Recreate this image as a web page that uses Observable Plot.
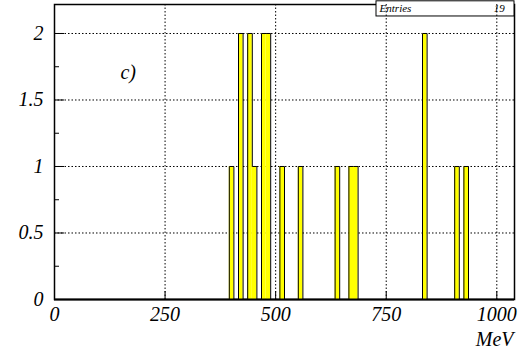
<!DOCTYPE html>
<html>
<head>
<meta charset="utf-8">
<script src="https://cdn.jsdelivr.net/npm/d3@7"></script>
<script src="https://cdn.jsdelivr.net/npm/@observablehq/plot@0.6"></script>
<style>
  html, body { margin: 0; padding: 0; background: white; }
  svg text { font-family: "Liberation Serif", "Times New Roman", serif; }
</style>
</head>
<body>
<div id="chart"></div>
<script>
// Histogram: 100 bins of 10.4 MeV over 0–1040 MeV; only non-empty bins listed
const binWidth = 10.4;
const nBins = 100;
const binStart = [395.2, 416, 436.8, 447.2, 468, 478.4, 509.6, 551.2, 634.4, 665.6, 676, 832, 904.8, 925.6];
const counts   = [1, 2, 2, 1, 2, 2, 1, 1, 1, 1, 1, 2, 1, 1];
const entries = 19;

const xTicks = [0, 250, 500, 750, 1000];
const xTickLabels = ["0", "250", "500", "750", "1000"];
const yTicks = [0, 0.5, 1, 1.5, 2];
const yTickLabels = ["0", "0.5", "1", "1.5", "2"];
const yMinor = [0.25, 0.75, 1.25, 1.75];

const bins = binStart.map((x, i) => ({x1: x, x2: x + binWidth, n: counts[i]}));

// full bin contents for the step outline of the histogram
const full = new Array(nBins).fill(0);
binStart.forEach((x, i) => { full[Math.round(x / binWidth)] = counts[i]; });
const outline = full.map((n, i) => ({x: i * binWidth, n}));
outline.push({x: nBins * binWidth, n: 0});
outline.unshift({x: 0, n: 0});

const W = 521, H = 356;
const mL = 54, mR = 7, mT = 4, mB = 57;
const frameW = W - mL - mR, frameH = H - mT - mB;
const font = "Liberation Serif";

// statistics box in the upper right corner
const statsBox = [{x1: 728, x2: 1040, y1: 2.128, y2: 2.242}];

const txt = {fontFamily: font, fontStyle: "italic", fill: "black"};

const chart = Plot.plot({
  width: W,
  height: H,
  marginLeft: mL,
  marginRight: mR,
  marginTop: mT,
  marginBottom: mB,
  x: {domain: [0, 1040], axis: null},
  y: {domain: [0, 2.218], axis: null},
  style: {fontFamily: font, background: "white", overflow: "visible"},
  marks: [
    Plot.frame({stroke: "black", strokeWidth: 1.5}),
    Plot.rect(statsBox, {x1: "x1", x2: "x2", y1: "y1", y2: "y2", fill: "white", stroke: "black", strokeWidth: 1}),
    Plot.gridX(xTicks.slice(1), {stroke: "black", strokeOpacity: 1, strokeWidth: 1, strokeDasharray: "1.5,2"}),
    Plot.gridY(yTicks.slice(1), {stroke: "black", strokeOpacity: 1, strokeWidth: 1, strokeDasharray: "1.5,2"}),
    Plot.rect(bins, {x1: "x1", x2: "x2", y1: 0, y2: "n", fill: "#ffff00"}),
    Plot.line(outline, {x: "x", y: "n", curve: "step-after", stroke: "black", strokeWidth: 1}),
    Plot.ruleY([0], {stroke: "black", strokeWidth: 2}),
    Plot.tickX(xTicks, {x: d => d, stroke: "black", insetTop: frameH - 8}),
    Plot.tickY(yTicks, {y: d => d, stroke: "black", insetRight: frameW - 10}),
    Plot.tickY(yMinor, {y: d => d, stroke: "black", insetRight: frameW - 5}),
    Plot.text(xTicks, {x: d => d, y: 0, dy: 15, text: (d, i) => xTickLabels[i], fontSize: 20, lineAnchor: "middle", ...txt}),
    Plot.text(yTicks, {x: 0, y: d => d, dx: -11, text: (d, i) => yTickLabels[i], fontSize: 20, textAnchor: "end", lineAnchor: "middle", ...txt}),
    Plot.text(["MeV"], {frameAnchor: "bottom-right", dx: -1, dy: 46, textAnchor: "end", lineAnchor: "bottom", fontSize: 20, ...txt}),
    Plot.text(["c)"], {x: 149, y: 1.66, textAnchor: "start", lineAnchor: "bottom", fontSize: 20, ...txt}),
    Plot.text(["Entries"], {x: 735, y: 2.185, textAnchor: "start", lineAnchor: "middle", fontSize: 11, ...txt}),
    Plot.text([String(entries)], {x: 1018, y: 2.185, textAnchor: "end", lineAnchor: "middle", fontSize: 11, ...txt})
  ]
});

document.getElementById("chart").appendChild(chart);
</script>
</body>
</html>
